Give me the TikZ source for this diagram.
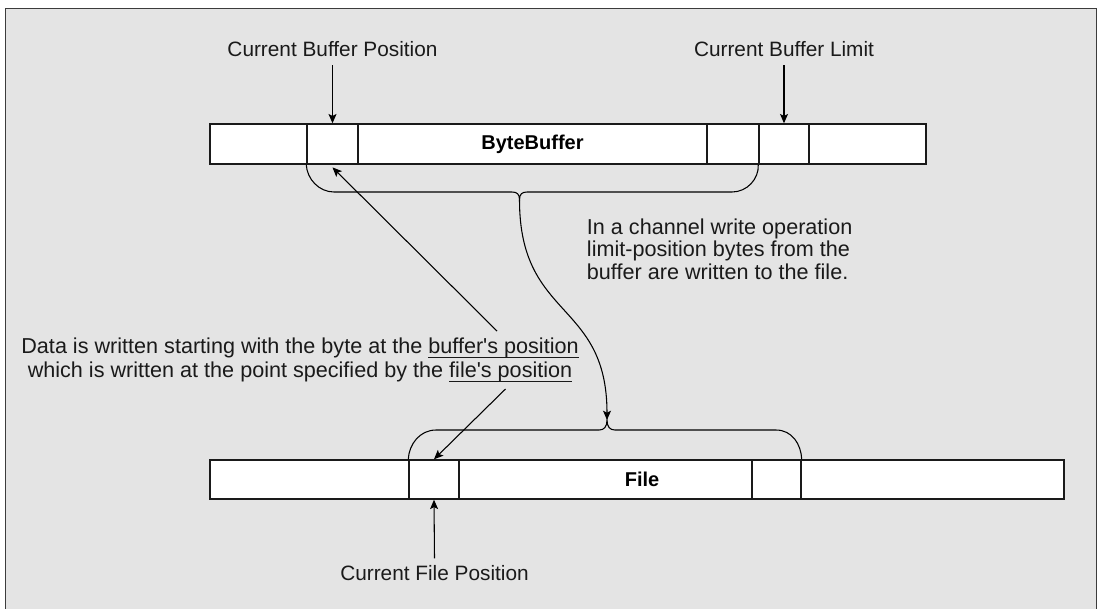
\documentclass[tikz,border=0pt]{standalone}
\usepackage{fontspec}
\setmainfont{Liberation Sans}
\usetikzlibrary{arrows.meta}
\definecolor{bg}{HTML}{E4E4E4}
\definecolor{ink}{HTML}{1A1A1A}
\newcommand\myul[1]{\setbox0\hbox{#1}\rlap{\rule[-2.8pt]{\wd0}{0.6pt}}\box0}
\begin{document}
\begin{tikzpicture}[x=0.75pt,y=-0.75pt,
  cell/.style={draw=ink, fill=white, line width=1.1pt, inner sep=0pt, minimum height=30pt},
  lbl/.style={font=\fontsize{15.6pt}{17pt}\selectfont, text=ink, inner sep=0pt},
  note/.style={text=ink, inner sep=0pt},
  boldlbl/.style={font=\fontsize{15pt}{17pt}\selectfont\bfseries, text=black, inner sep=0pt},
  arr/.style={line width=0.8pt, -{Stealth[length=7pt,width=6pt,inset=1.5pt]}},
  bracestyle/.style={line width=0.8pt}
]
\useasboundingbox (0,0) rectangle (1099,608);
\clip (0,0) rectangle (1099,608);
\fill[white] (0,0) rectangle (1099,608);
\draw[line width=1.2pt, draw=ink!85, fill=bg] (5.5,8.5) rectangle (1096.5,640);

% ByteBuffer bar
\node[cell, minimum width=537pt] (bb) at (568,144) {};
\node[cell, minimum width=38.25pt] (bpos) at (332.5,144) {};
\node[cell, minimum width=39pt] (bmid) at (733,144) {};
\node[cell, minimum width=37.5pt] (blim) at (784,144) {};
\node[boldlbl] (bbt) at (532.5,144) {ByteBuffer};

% File bar
\node[cell, minimum width=640.5pt, minimum height=29.25pt] (fb) at (637,479.5) {};
\node[cell, minimum width=37.5pt, minimum height=29.25pt] (fpos) at (434,479.5) {};
\node[cell, minimum width=36.75pt, minimum height=29.25pt] (fend) at (776.5,479.5) {};
\node[boldlbl] (ft) at (642,479.5) {File};

% labels
\node[lbl, anchor=base] (cbp) at (332.5,56.7) {Current Buffer Position};
\node[lbl, anchor=base] (cbl) at (784,56.7) {Current Buffer Limit};
\node[lbl, anchor=base] (cfp) at (434.5,580) {Current File Position};

\node[note, align=center, font=\fontsize{16.2pt}{18pt}\selectfont] (data) at (300,360)
  {Data is written starting with the byte at the \myul{buffer\textquotesingle s position}\\
   which is written at the point specified by the \myul{file\textquotesingle s position}};
\node[note, align=left, anchor=west, font=\fontsize{16.2pt}{17pt}\selectfont] (chan) at (586.7,249)
  {In a channel write operation\\limit-position bytes from the\\buffer are written to the file.};

% arrows from labels
\draw[arr] ([yshift=-6.2pt]cbp.south) -- (bpos.north);
\draw[arr] ([yshift=-6.2pt]cbl.south) -- (blim.north);
\draw[arr] ([yshift=4.8pt]cfp.north) -- (fpos.south);

% braces
\coordinate (utip) at (519.5,200);
\coordinate (ltip) at (607,420);
\draw[bracestyle] (bpos.south west) .. controls (307,179) and (319,192) .. (334,192) -- (512,192)
  .. controls (517,192) and (519.5,194) .. (utip)
  .. controls (519.5,194) and (522,192) .. (527,192) -- (732,192)
  .. controls (747,192) and (759,179) .. (blim.south west);
\draw[bracestyle] (fpos.north west) .. controls (409,444) and (420,430) .. (436,430) -- (599,430)
  .. controls (604,430) and (607,427) .. (ltip)
  .. controls (607,427) and (610,430) .. (615,430) -- (776,430)
  .. controls (792,430) and (801,444) .. (fend.north east);
\draw[arr] (utip) .. controls (519.5,320) and (607,300) .. (ltip);

% arrows from the explanation
\coordinate (a1s) at (497,331);
\coordinate (a2s) at (505.5,389);
\draw[arr] (a1s) -- ([yshift=-2pt]bpos.south);
\draw[arr] (a2s) -- (fpos.north);
\end{tikzpicture}
\end{document}
